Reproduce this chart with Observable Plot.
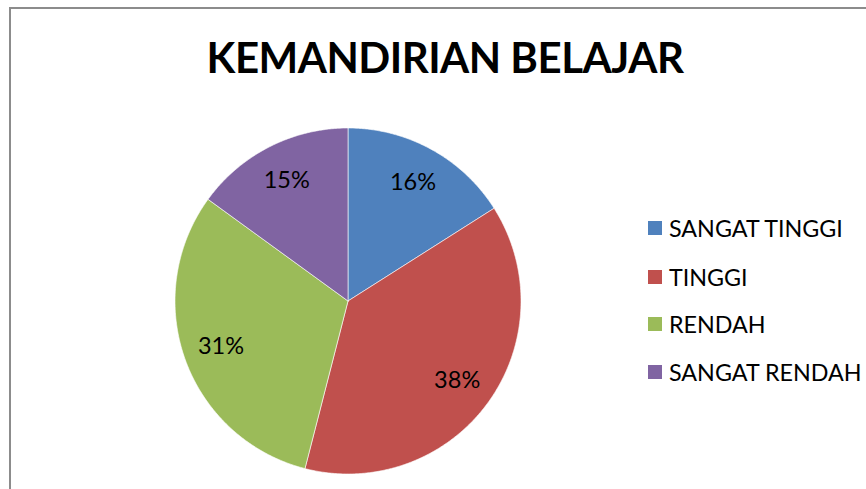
<!DOCTYPE html>
<html>
<head>
<meta charset="utf-8">
<script src="https://cdn.jsdelivr.net/npm/d3@7"></script>
<script src="https://cdn.jsdelivr.net/npm/@observablehq/plot@0.6"></script>
<style>
  html, body { margin: 0; padding: 0; background: #fff; }
  body { width: 866px; height: 489px; overflow: hidden; position: relative; font-family: Lato, "Open Sans", sans-serif; }
  #frame { position: absolute; left: 9px; top: 7px; width: 1000px; height: 1000px; border-left: 2px solid #8c8c8c; border-top: 2px solid #8c8c8c; box-sizing: border-box; }
  #title { position: absolute; left: 0; width: 890px; top: 31px; text-align: center; font-weight: 700; font-size: 42px; line-height: 52px; color: #000; letter-spacing: -0.5px; }
  #chart { position: absolute; left: 0; top: 0; }
  #legend { position: absolute; left: 648px; top: 0; }
  .item { position: absolute; left: 0; white-space: nowrap; font-size: 23.3px; color: #000; display: flex; align-items: center; }
  .sw { width: 14px; height: 14px; margin-right: 7px; }
</style>
</head>
<body>
<div id="frame"></div>
<div id="title">KEMANDIRIAN BELAJAR</div>
<div id="chart"></div>
<div id="legend"></div>
<script>
const categories = ["SANGAT TINGGI", "TINGGI", "RENDAH", "SANGAT RENDAH"];
const values = [16, 38, 31, 15];
const labels = ["16%", "38%", "31%", "15%"];
const colors = ["#4F81BD", "#C0504D", "#9BBB59", "#8064A2"];

const rows = categories.map((c, i) => ({cat: c, value: values[i], label: labels[i]}));
const arcs = d3.pie().sort(null).value(d => d.value)(rows);

// polygon vertices for each slice (unit circle, angle clockwise from north)
const pts = [];
arcs.forEach(a => {
  const cat = a.data.cat;
  pts.push({cat, x: 0, y: 0});
  const n = Math.max(2, Math.ceil((a.endAngle - a.startAngle) / (Math.PI / 360)));
  for (let k = 0; k <= n; k++) {
    const t = a.startAngle + (a.endAngle - a.startAngle) * k / n;
    pts.push({cat, x: Math.sin(t), y: Math.cos(t)});
  }
  pts.push({cat, x: 0, y: 0});
});
const labelPts = arcs.map(a => {
  const m = (a.startAngle + a.endAngle) / 2;
  return {label: a.data.label, x: 0.78 * Math.sin(m), y: 0.78 * Math.cos(m)};
});

const cx = 347.5, cy = 300.5, r = 173;
const chart = Plot.plot({
  width: 866,
  height: 489,
  margin: 0,
  style: {fontFamily: "Lato, 'Open Sans', sans-serif", background: "transparent"},
  x: {domain: [-1, 1], range: [cx - r, cx + r], axis: null},
  y: {domain: [-1, 1], range: [cy + r, cy - r], axis: null},
  color: {domain: categories, range: colors},
  marks: [
    Plot.line(pts, {x: "x", y: "y", z: "cat", fill: "cat", stroke: "white", strokeWidth: 0.6, curve: "linear"}),
    Plot.text(labelPts, {x: "x", y: "y", text: "label", fontSize: 23.5, fill: "#000"})
  ]
});
document.getElementById("chart").appendChild(chart);

const legendYs = [228, 276.5, 324, 372];
const legend = document.getElementById("legend");
categories.forEach((c, i) => {
  const it = document.createElement("div");
  it.className = "item";
  it.style.top = (legendYs[i] - 14) + "px";
  it.style.height = "28px";
  const sw = document.createElement("div");
  sw.className = "sw";
  sw.style.background = colors[i];
  const tx = document.createElement("span");
  tx.textContent = c;
  it.appendChild(sw);
  it.appendChild(tx);
  legend.appendChild(it);
});
</script>
</body>
</html>
